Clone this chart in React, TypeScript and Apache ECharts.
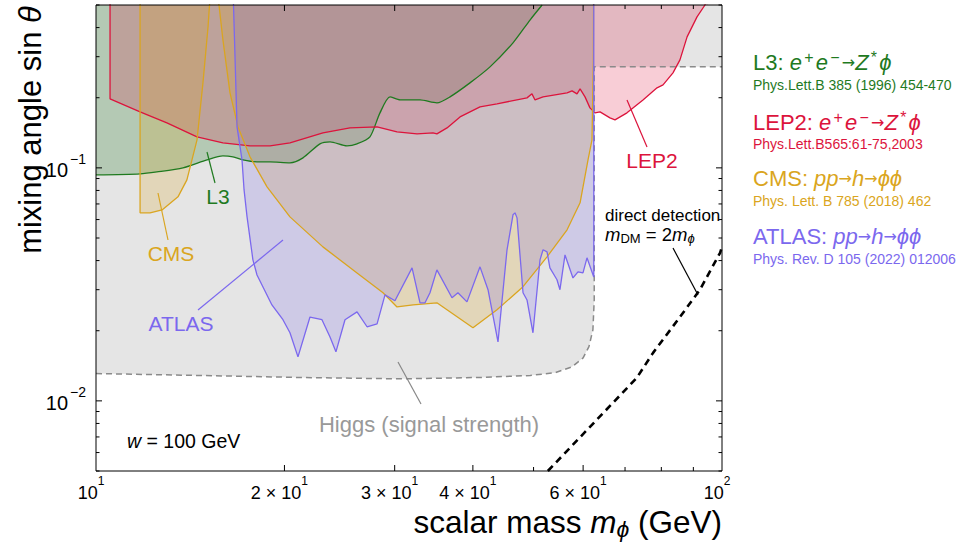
import React, { useEffect, useRef } from "react";
import * as echarts from "echarts";

// ---------------- data (GeV, sin theta) ----------------
const higgsBoundary: [number, number][] = [
  [10, 0.0131], [14.66, 0.01285], [21.2, 0.0126], [30.6, 0.01243], [41.1, 0.0126],
  [49.4, 0.01285], [54.1, 0.0132], [57.6, 0.014], [60.0, 0.0153], [61.3, 0.0171],
  [62.2, 0.0202], [62.5, 0.0271], [62.5, 0.2713], [100, 0.2713],
];

const l3Boundary: [number, number][] = [
  [10, 0.0933], [11.76, 0.0943], [12.51, 0.0961], [13.77, 0.1], [15.04, 0.1082],
  [15.95, 0.1126], [16.55, 0.1115], [17.17, 0.1082], [18.08, 0.1061], [18.97, 0.1061],
  [20.41, 0.1051], [21.41, 0.1104], [22.79, 0.1268], [23.65, 0.1293], [25.17, 0.1243],
  [26.12, 0.1268], [27.39, 0.1358], [28.42, 0.1722], [29.49, 0.2017], [30.6, 0.1957],
  [32.93, 0.1957], [35.04, 0.1901], [36.77, 0.2017], [39.57, 0.2316], [42.6, 0.2713],
  [46.36, 0.344], [49.35, 0.431], [51.6, 0.5],
];

const lep2Boundary: [number, number][] = [
  [10.53, 0.6], [10.53, 0.1978], [11.76, 0.1739], [12.98, 0.156], [14.5, 0.1358],
  [15.95, 0.128], [17.62, 0.1243], [18.97, 0.1243], [20.41, 0.128], [23.04, 0.1413],
  [25.45, 0.1484], [28.12, 0.1499], [30.26, 0.1427], [32.57, 0.1399], [34.54, 0.1413],
  [35.04, 0.1399], [36.37, 0.1484], [38.15, 0.1655], [41.06, 0.1827], [43.71, 0.1882],
  [48.81, 0.1997], [49.71, 0.2078], [50.27, 0.1957], [51.78, 0.2017], [56.56, 0.2099],
  [57.6, 0.214], [58.67, 0.2078], [59.33, 0.2183], [60.42, 0.2017], [61.53, 0.1809],
  [62.67, 0.1722], [63.85, 0.1739], [66.23, 0.1639], [67.46, 0.1607], [70.5, 0.1722],
  [74.78, 0.1957], [78.74, 0.2205], [80.5, 0.2271], [83.5, 0.2557], [85.67, 0.2907],
  [87.95, 0.3649], [91.22, 0.4446], [93.93, 0.5], [95, 0.6],
];

const cmsBoundary: [number, number][] = [
  [11.76, 0.6], [11.76, 0.0641], [12.2, 0.0641], [12.75, 0.066], [13.52, 0.0751],
  [13.97, 0.0888], [14.5, 0.1319], [14.82, 0.2316], [15.1, 0.4029], [15.25, 0.6],
  [15.45, 1.0], [15.6, 0.6], [15.95, 0.354], [16.37, 0.2099], [16.86, 0.1499],
  [17.62, 0.1115], [18.76, 0.0829], [20.41, 0.0616], [23.04, 0.0458], [26.12, 0.0354],
  [28.74, 0.0291], [30.26, 0.0253], [32.1, 0.0258], [35.04, 0.02635], [40.01, 0.0206],
  [43.71, 0.0246], [48.1, 0.0309], [52.54, 0.0415], [56.56, 0.0542], [59.33, 0.0708],
  [61.09, 0.1082], [61.99, 0.1319], [62.3, 0.29], [62.35, 0.6],
];

const atlasBoundary: [number, number][] = [
  [16.55, 0.6], [16.8, 0.1499], [17.11, 0.1082], [17.24, 0.0804], [17.43, 0.0616],
  [17.81, 0.0403], [18.08, 0.0347], [19.1, 0.0258], [19.89, 0.0223], [20.41, 0.0196],
  [21.02, 0.01544], [21.97, 0.0229], [22.96, 0.0223], [23.65, 0.0188], [24.17, 0.01623],
  [24.99, 0.0223], [26.12, 0.0241], [27.1, 0.0208], [28.12, 0.0214], [28.95, 0.0285],
  [30.03, 0.0269], [31.98, 0.0372], [32.93, 0.02635], [33.54, 0.02635], [34.16, 0.0291],
  [35.04, 0.0365], [37.04, 0.0277], [37.86, 0.0291], [39.14, 0.0266], [41.06, 0.0376],
  [42.29, 0.03], [43.87, 0.0179], [45.35, 0.0445], [46.36, 0.0629], [46.7, 0.0641],
  [47.05, 0.061], [48.1, 0.0291], [48.81, 0.0271], [49.89, 0.0196], [51.2, 0.0403],
  [51.78, 0.0445], [52.54, 0.0436], [53.1, 0.0372], [54.5, 0.0331], [55.1, 0.03],
  [56.13, 0.0423], [57.8, 0.0337], [58.88, 0.0358], [59.97, 0.0354], [60.86, 0.0411],
  [62.4, 0.034], [62.4, 0.6],
];

const directDetection: [number, number][] = [
  [52.7, 0.005], [73.1, 0.01256], [77.6, 0.01607], [85.7, 0.02293], [92.2, 0.03],
  [99.3, 0.0432], [100, 0.046],
];

// tick values / labels
const xTickValues = [10, 20, 30, 40, 60, 100];
const xTickMantissa = ["", "2 × ", "3 × ", "4 × ", "6 × ", ""];
const xTickExponent = ["1", "1", "1", "1", "1", "2"];
const xMinorTicks = [50, 70, 80, 90];
const yTickValues = [0.01, 0.1];
const yTickExponent = ["−2", "−1"];
const yMinorTicks = [0.005, 0.006, 0.007, 0.008, 0.009, 0.02, 0.03, 0.04, 0.05, 0.06, 0.07, 0.08, 0.09, 0.2, 0.3, 0.4, 0.5];

// ---------------- styling ----------------
const FONT = '"Liberation Sans", Arial, "DejaVu Sans", sans-serif';
const GREEN = "#1f7a1f";
const RED = "#dc143c";
const GOLD = "#daa520";
const PURPLE = "#7b68ee";
const GRAY_TXT = "#999999";

function rs(color: string, size: number, sup = 0.3, sub = 0.3, smallF = 0.68) {
  const small = Math.round(size * smallF);
  const hs = small * 0.8;
  const L = 2 * sup * size + hs;
  const hb = Math.max(1, L - 2 * sub * size);
  const c = { fill: color, fontFamily: FONT };
  return {
    n: { ...c, fontSize: size, lineHeight: L },
    i: { ...c, fontSize: size, lineHeight: L, fontStyle: "italic" },
    s: { ...c, fontSize: small, lineHeight: hs, verticalAlign: "top" },
    is: { ...c, fontSize: small, lineHeight: hs, verticalAlign: "top", fontStyle: "italic" },
    b: { ...c, fontSize: small, lineHeight: hb, verticalAlign: "bottom" },
    ib: { ...c, fontSize: small, lineHeight: hb, verticalAlign: "bottom", fontStyle: "italic" },
    sp: { ...c, fontSize: Math.round(size * 0.35), lineHeight: L },
    ar: { fill: color, fontFamily: '"DejaVu Sans", sans-serif', fontSize: Math.round(size * 0.72), lineHeight: L },
  };
}

function txt(x: number, y: number, text: string, rich: any, align = "left", extra: any = {}) {
  return {
    type: "text",
    x,
    y,
    z: 60,
    silent: true,
    ...extra,
    style: { text, rich, align, verticalAlign: "middle", fontFamily: FONT },
  };
}

function seg(x1: number, y1: number, x2: number, y2: number, color: string, w = 1, z = 60) {
  return {
    type: "line",
    z,
    silent: true,
    shape: { x1, y1, x2, y2 },
    style: { stroke: color, lineWidth: w },
  };
}

function region(name: string, data: [number, number][], color: string, fill: string, smooth = 0) {
  return {
    name,
    type: "line",
    data,
    symbol: "none",
    smooth,
    silent: true,
    clip: true,
    lineStyle: { color, width: 1.3 },
    areaStyle: { color: fill, opacity: 1, origin: "end" },
  };
}

export default function App() {
  const ref = useRef<HTMLDivElement>(null);
  useEffect(() => {
    const chart = echarts.init(ref.current!, null, { renderer: "svg" });
    const hiddenAxis = {
      axisLine: { show: false },
      axisTick: { show: false },
      axisLabel: { show: false },
      splitLine: { show: false },
      minorTick: { show: false },
      minorSplitLine: { show: false },
    };
    chart.setOption({
      animation: false,
      backgroundColor: "#ffffff",
      grid: { left: 96, top: 5, width: 626, height: 466, containLabel: false, outerBoundsMode: "none", show: false },
      xAxis: { type: "log", logBase: 10, min: 10, max: 100, ...hiddenAxis },
      yAxis: { type: "log", logBase: 10, min: 0.005, max: 0.5, ...hiddenAxis },
      series: [
        {
          name: "Higgs",
          type: "line",
          data: higgsBoundary,
          symbol: "none",
          silent: true,
          clip: true,
          lineStyle: { color: "#8a8a8a", width: 1.5, type: [6, 4] },
          areaStyle: { color: "#e5e5e5", opacity: 1, origin: "end" },
        },
        region("L3", l3Boundary, GREEN, "rgba(0,100,0,0.21)", 0.25),
        region("LEP2", lep2Boundary, RED, "rgba(220,20,60,0.21)"),
        region("CMS", cmsBoundary, GOLD, "rgba(218,165,32,0.22)"),
        region("ATLAS", atlasBoundary, PURPLE, "rgba(123,104,238,0.21)"),
        {
          name: "direct",
          type: "line",
          data: directDetection,
          symbol: "none",
          silent: true,
          clip: true,
          z: 5,
          lineStyle: { color: "#000", width: 2.6, type: [7, 5] },
        },
      ],
    });

    const X = (v: number) => chart.convertToPixel({ xAxisIndex: 0 } as any, v) as unknown as number;
    const Y = (v: number) => chart.convertToPixel({ yAxisIndex: 0 } as any, v) as unknown as number;
    const x0 = X(10), x1 = X(100), yb = Y(0.005), yt = Y(0.5);
    const g: any[] = [];

    // frame
    g.push({
      type: "rect",
      z: 70,
      silent: true,
      shape: { x: x0, y: yt, width: x1 - x0, height: yb - yt },
      style: { fill: "none", stroke: "#000", lineWidth: 1 },
    });
    // x ticks
    xTickValues.forEach((v, k) => {
      const x = X(v);
      if (v !== 10 && v !== 100) {
        g.push(seg(x, yb, x, yb - 6, "#000", 1, 70));
        g.push(seg(x, yt, x, yt + 6, "#000", 1, 70));
      }
      const r = rs("#000", 18, 0.72);
      g.push(txt(x - 5, yb + 22, `{n|${xTickMantissa[k]}10}{s|${xTickExponent[k]}}`, r, "center"));
    });
    xMinorTicks.forEach((v) => {
      const x = X(v);
      g.push(seg(x, yb, x, yb - 4, "#000", 1, 70));
      g.push(seg(x, yt, x, yt + 4, "#000", 1, 70));
    });
    yTickValues.forEach((v, k) => {
      const y = Y(v);
      g.push(seg(x0, y, x0 + 6, y, "#000", 1, 70));
      g.push(seg(x1, y, x1 - 6, y, "#000", 1, 70));
      const r = rs("#000", 20, 0.62, 0.3, 0.72);
      g.push(txt(x0 - 10, y + 2, `{n|10}{sp| }{s|${yTickExponent[k]}}`, r, "right"));
    });
    yMinorTicks.forEach((v) => {
      const y = Y(v);
      g.push(seg(x0, y, x0 + 3.5, y, "#000", 1, 70));
      g.push(seg(x1, y, x1 - 3.5, y, "#000", 1, 70));
    });

    // axis titles
    g.push(txt(30, 130, "{n|mixing angle sin }{i|θ}", rs("#000", 31), "center", { rotation: Math.PI / 2 }));
    g.push(txt(x1, 522, "{n|scalar mass }{i|m}{ib|ϕ}{n| (GeV)}", rs("#000", 31.5, 0.3, 0.3, 0.72), "right"));

    // region labels with pointers
    g.push(txt(218, 196, "{n|L3}", rs(GREEN, 21), "center"));
    g.push(seg(207, 152, 215, 183, GREEN, 1.2));
    g.push(txt(171, 253, "{n|CMS}", rs(GOLD, 21), "center"));
    g.push(seg(158, 193, 168, 240, GOLD, 1.2));
    g.push(txt(181, 323, "{n|ATLAS}", rs(PURPLE, 21), "center"));
    g.push(seg(283, 240, 198, 310, PURPLE, 1.2));
    g.push(txt(652, 160, "{n|LEP2}", rs(RED, 21), "center"));
    g.push(seg(627, 100, 647, 147, RED, 1.2));
    g.push(txt(429, 424, "{n|Higgs (signal strength)}", rs(GRAY_TXT, 22), "center"));
    g.push(seg(398, 362, 421, 404, "#888", 1.2));
    g.push(txt(127, 441, "{i|w}{n| = 100 GeV}", rs("#000", 19.5), "left"));
    g.push(txt(605, 215, "{n|direct detection}", rs("#000", 17), "left"));
    g.push(txt(605, 234, "{i|m}{b|DM}{n| = 2}{i|m}{ib|ϕ}", rs("#000", 18.5, 0.3, 0.28, 0.7), "left"));
    g.push(seg(673, 248, 698, 295, "#000", 1.2));

    // legend (right side)
    const lx = 753;
    const ttl = (c: string) => rs(c, 22, 0.3, 0.3, 0.72);
    const eeZ = "{i|e}{sp| }{s|+}{sp| }{i|e}{sp| }{s|−}{sp| }{ar|→}{i|Z}{sp| }{s|*}{sp| }{i|ϕ}";
    const pphh = "{i|pp}{ar|→}{i|h}{ar|→}{i|ϕϕ}";
    g.push(txt(lx, 62, "{n|L3: }" + eeZ, ttl(GREEN), "left"));
    g.push(txt(lx, 85, "{n|Phys.Lett.B 385 (1996) 454-470}", rs(GREEN, 14), "left"));
    g.push(txt(lx, 122, "{n|LEP2: }" + eeZ, ttl(RED), "left"));
    g.push(txt(lx, 144, "{n|Phys.Lett.B565:61-75,2003}", rs(RED, 14), "left"));
    g.push(txt(lx, 178, "{n|CMS: }" + pphh, ttl(GOLD), "left"));
    g.push(txt(lx, 201, "{n|Phys. Lett. B 785 (2018) 462}", rs(GOLD, 14), "left"));
    g.push(txt(lx, 236, "{n|ATLAS: }" + pphh, ttl(PURPLE), "left"));
    g.push(txt(lx, 259, "{n|Phys. Rev. D 105 (2022) 012006}", rs(PURPLE, 14), "left"));

    chart.setOption({ graphic: { elements: g } });
    return () => chart.dispose();
  }, []);
  return <div ref={ref} style={{ position: "absolute", left: 0, top: 0, width: 959, height: 545 }} />;
}
